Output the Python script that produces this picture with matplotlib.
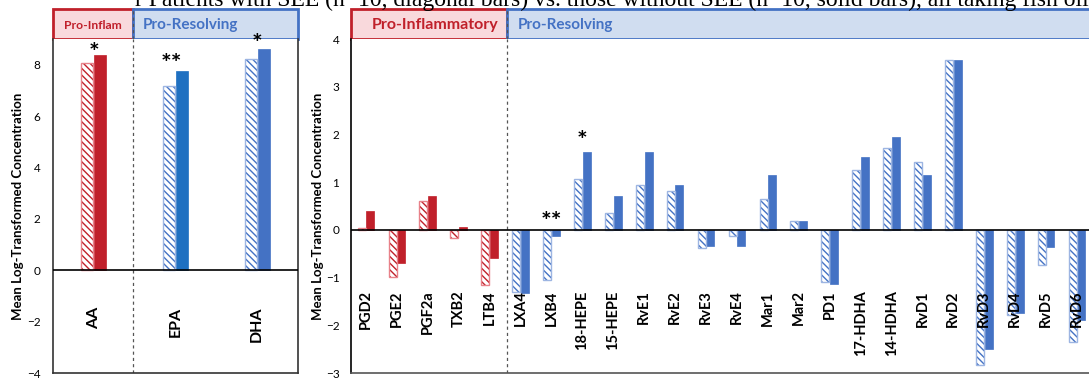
import matplotlib
matplotlib.use("Agg")
import matplotlib.pyplot as plt
from matplotlib.patches import Rectangle

plt.rcParams['font.family'] = ['Lato', 'DejaVu Sans']
plt.rcParams['hatch.linewidth'] = 1.0

# ---------------- data ----------------
left_categories = ["AA", "EPA", "DHA"]
left_see = [8.08, 7.19, 8.24]        # diagonal (with SEE)
left_nosee = [8.39, 7.76, 8.63]      # solid (without SEE)
left_stars = ["*", "**", "*"]
left_star_y = [8.45, 8.0, 8.8]

right_categories = ["PGD2", "PGE2", "PGF2a", "TXB2", "LTB4", "LXA4", "LXB4",
                    "18-HEPE", "15-HEPE", "RvE1", "RvE2", "RvE3", "RvE4",
                    "Mar1", "Mar2", "PD1", "17-HDHA", "14-HDHA", "RvD1",
                    "RvD2", "RvD3", "RvD4", "RvD5", "RvD6"]
right_see = [0.04, -0.98, 0.60, -0.18, -1.15, -1.30, -1.06, 1.07, 0.36, 0.93,
             0.81, -0.38, -0.12, 0.65, 0.18, -1.09, 1.25, 1.72, 1.42, 3.57,
             -2.83, -1.79, -0.74, -2.34]
right_nosee = [0.39, -0.69, 0.70, 0.07, -0.60, -1.32, -0.12, 1.63, 0.72, 1.63,
               0.93, -0.33, -0.33, 1.16, 0.19, -1.13, 1.52, 1.94, 1.16, 3.57,
               -2.49, -1.74, -0.36, -1.88]
right_star_idx = [6, 7]
right_star_txt = ["**", "*"]
right_star_y = [0.15, 1.85]

n_inflam_right = 5

# ---------------- style ----------------
RED = "#C0202A"
RED_LIGHT = "#E8828A"
BLUE = "#4472C4"
BLUE_LIGHT = "#9DB5E2"
BLUE_EPA = "#1F70C1"
PINK_FILL = "#F9D9DC"
BLUE_FILL = "#D0DDF0"
HATCH = "\\\\\\\\\\"

W, H = 1089, 378
fig = plt.figure(figsize=(W / 100, H / 100), dpi=100)

def fx(px):
    return px / W

def fy(py):
    return 1 - py / H

ax_top_px, ax_bot_px = 39, 373
hdr_top_px = 9

# title (partly cut off at top, as in the source)
fig.text(fx(1089), fy(6.0), "r Patients with SEE (n=10, diagonal bars) vs. those without SEE (n=10, solid bars), all taking fish oil",
         ha="right", va="baseline", fontsize=17, family="Liberation Serif", color="black")


def draw_bars(ax, x, see, nosee, cols, lights, solids, width, off):
    for i, (a, b) in enumerate(zip(see, nosee)):
        c = cols[i]
        lt = lights[i]
        ax.bar(x[i] - off, a, width, color="white", edgecolor=c, hatch=HATCH, linewidth=0, zorder=2)
        ax.bar(x[i] - off, a, width, fill=False, edgecolor=lt, linewidth=1.0, zorder=3)
        sc = solids[i]
        ax.bar(x[i] + off, b, width, color=sc, edgecolor=sc, linewidth=0.5, zorder=2)


# ---------------- left header ----------------
hL = fig.add_axes([fx(53), fy(ax_top_px), fx(298 - 53), (ax_top_px - hdr_top_px) / H])
hL.set_xlim(-0.5, 2.5)
hL.set_ylim(0, 1)
hL.axis("off")
hL.add_patch(Rectangle((-0.5, 0), 0.976, 1, facecolor=PINK_FILL, edgecolor=RED, lw=2, clip_on=False))
hL.add_patch(Rectangle((0.476, 0), 2.024, 1, facecolor=BLUE_FILL, edgecolor=BLUE, lw=2, clip_on=False))
hL.axvline(0.476, color="#555555", lw=0.9, ls=(0, (2.5, 2.5)))
hL.text(-0.012, 0.45, "Pro-Inflam", ha="center", va="center", color=RED, fontsize=8.7, fontweight="bold")
hL.text(0.6, 0.45, "Pro-Resolving", ha="left", va="center", color=BLUE, fontsize=11, fontweight="bold")

# ---------------- left panel ----------------
axL = fig.add_axes([fx(53), fy(ax_bot_px), fx(298 - 53), (ax_bot_px - ax_top_px) / H])
axL.set_zorder(3)
xl = list(range(len(left_categories)))
draw_bars(axL, xl, left_see, left_nosee, [RED, BLUE, BLUE], [RED_LIGHT, BLUE_LIGHT, BLUE_LIGHT],
          [RED, BLUE_EPA, BLUE], 0.145, 0.08)
axL.set_xlim(-0.5, 2.5)
axL.set_ylim(-4, 9.0)
axL.set_yticks([-4, -2, 0, 2, 4, 6, 8])
axL.set_xticks([])
axL.tick_params(axis="y", length=0, labelsize=8.5, pad=9)
axL.axhline(0, color="black", lw=1.2, zorder=4)
axL.axvline(0.476, color="#555555", lw=0.9, ls=(0, (2.5, 2.5)), zorder=1)
for s in ["left", "bottom", "right", "top"]:
    axL.spines[s].set_color("#333333")
    axL.spines[s].set_linewidth(1.2)
axL.spines["top"].set_visible(False)
for i, lab in enumerate(left_categories):
    axL.text(i, -1.41, lab, rotation=90, rotation_mode="anchor", ha="right", va="center",
             fontsize=11.5, fontweight="bold")
for i, s in enumerate(left_stars):
    axL.text(i + (0.0 if s == "*" else -0.05), left_star_y[i], s, ha="center", va="center",
             fontsize=18, fontweight="bold", zorder=6)
axL.set_ylabel("Mean Log-Transformed Concentration", fontsize=9.5, fontweight="bold", labelpad=2)

# ---------------- right header ----------------
hR = fig.add_axes([fx(350.5), fy(ax_top_px), fx(1092.5 - 350.5), (ax_top_px - hdr_top_px) / H])
hR.set_xlim(-0.5, len(right_categories) - 0.5)
hR.set_ylim(0, 1)
hR.axis("off")
hR.add_patch(Rectangle((-0.5, 0), 5.05, 1, facecolor=PINK_FILL, edgecolor=RED, lw=2, clip_on=False))
hR.add_patch(Rectangle((4.55, 0), 20.0, 1, facecolor=BLUE_FILL, edgecolor=BLUE, lw=2, clip_on=False))
hR.axvline(4.55, color="#555555", lw=0.9, ls=(0, (2.5, 2.5)))
hR.text(2.25, 0.45, "Pro-Inflammatory", ha="center", va="center", color=RED, fontsize=11.5, fontweight="bold")
hR.text(4.9, 0.45, "Pro-Resolving", ha="left", va="center", color=BLUE, fontsize=11, fontweight="bold")

# ---------------- right panel ----------------
axR = fig.add_axes([fx(350.5), fy(ax_bot_px), fx(1092.5 - 350.5), (ax_bot_px - ax_top_px) / H])
axR.set_zorder(3)
xr = list(range(len(right_categories)))
cols_r = [RED if i < n_inflam_right else BLUE for i in xr]
lights_r = [RED_LIGHT if i < n_inflam_right else BLUE_LIGHT for i in xr]
draw_bars(axR, xr, right_see, right_nosee, cols_r, lights_r, cols_r, 0.26, 0.14)
axR.set_xlim(-0.5, len(right_categories) - 0.5)
axR.set_ylim(-3, 4)
axR.set_yticks([-3, -2, -1, 0, 1, 2, 3, 4])
axR.set_xticks([])
axR.tick_params(axis="y", length=0, labelsize=8.5, pad=8)
axR.axhline(0, color="black", lw=1.2, zorder=4)
axR.axvline(4.55, color="#555555", lw=0.9, ls=(0, (2.5, 2.5)), zorder=1)
axR.spines["top"].set_visible(False)
axR.spines["right"].set_visible(False)
axR.spines["left"].set_color("black")
axR.spines["left"].set_linewidth(1.2)
axR.spines["bottom"].set_color("#555555")
axR.spines["bottom"].set_linewidth(1.2)
for i, lab in enumerate(right_categories):
    axR.text(i, -1.27, lab, rotation=90, rotation_mode="anchor", ha="right", va="center",
             fontsize=10.5, fontweight="bold", zorder=5)
for k, i in enumerate(right_star_idx):
    axR.text(i, right_star_y[k], right_star_txt[k], ha="center", va="center", fontsize=18, fontweight="bold")
axR.set_ylabel("Mean Log-Transformed Concentration", fontsize=9.5, fontweight="bold", labelpad=1)

fig.savefig("out.png", dpi=100)
